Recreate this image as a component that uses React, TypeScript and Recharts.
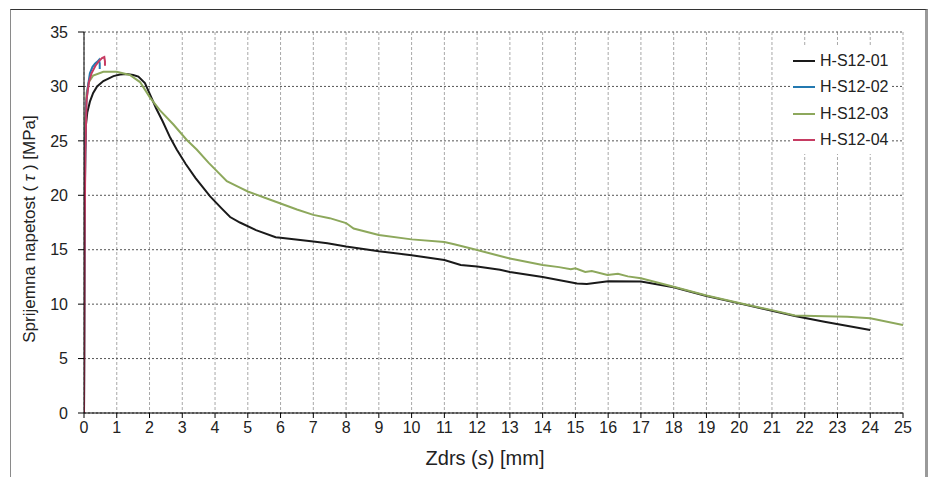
import { LineChart, Line, XAxis, YAxis, CartesianGrid, Legend, Label } from "recharts";

const xTicks = [0, 1, 2, 3, 4, 5, 6, 7, 8, 9, 10, 11, 12, 13, 14, 15, 16, 17, 18, 19, 20, 21, 22, 23, 24, 25];
const yTicks = [0, 5, 10, 15, 20, 25, 30, 35];

// [slip mm, bond stress MPa]
const s01: [number, number][] = [
  [0, 0], [0.01, 10], [0.02, 18], [0.04, 24], [0.06, 26.5], [0.1, 27.6], [0.18, 28.6], [0.28, 29.4],
  [0.4, 30.0], [0.59, 30.5], [0.9, 30.95], [1.1, 31.1], [1.3, 31.15], [1.5, 31.05], [1.66, 30.9],
  [1.86, 30.3], [2.01, 29.3], [2.2, 28], [2.4, 26.8], [2.63, 25.3], [2.83, 24.2], [3.1, 22.9],
  [3.4, 21.6], [3.85, 19.9], [4.2, 18.8], [4.46, 18.0], [4.76, 17.5], [5.25, 16.8], [5.85, 16.15],
  [6, 16.1], [7, 15.75], [7.43, 15.6], [8, 15.3], [9, 14.85], [10, 14.5], [11, 14.05], [11.5, 13.6],
  [12, 13.45], [12.7, 13.15], [13, 12.95], [14, 12.5], [15.05, 11.9], [15.35, 11.85], [16, 12.1],
  [17, 12.07], [18, 11.55], [19, 10.75], [20, 10.07], [21, 9.4], [21.7, 8.91], [22.6, 8.39], [24, 7.62],
];

const s02: [number, number][] = [
  [0, 0], [0.01, 10], [0.02, 18], [0.04, 25], [0.07, 28.5], [0.12, 30], [0.18, 31.2], [0.26, 31.8],
  [0.34, 32.1], [0.42, 32.3], [0.46, 32.45], [0.48, 32.1], [0.48, 31.6],
];

const s03: [number, number][] = [
  [0, 0], [0.01, 12], [0.02, 22], [0.04, 27], [0.08, 29.4], [0.15, 30.4], [0.28, 31.0], [0.59, 31.35],
  [1.0, 31.35], [1.4, 31.05], [1.71, 30.4], [2.01, 29.0], [2.32, 27.8], [2.73, 26.5], [3.13, 25.1],
  [3.44, 24.2], [3.8, 23.0], [4.36, 21.3], [4.76, 20.7], [5, 20.35], [5.5, 19.8], [6, 19.25],
  [6.5, 18.7], [7, 18.2], [7.5, 17.9], [8, 17.45], [8.23, 16.95], [9, 16.35], [10, 15.95], [11, 15.7],
  [11.3, 15.5], [12, 14.97], [12.7, 14.42], [13, 14.2], [14, 13.6], [14.5, 13.4], [14.86, 13.2],
  [15, 13.3], [15.3, 12.95], [15.5, 13.05], [15.98, 12.68], [16.3, 12.8], [16.6, 12.55], [17, 12.37],
  [18, 11.6], [19, 10.8], [20, 10.1], [21, 9.45], [21.7, 8.95], [22.3, 8.91], [23.3, 8.85], [24, 8.7],
  [25, 8.08],
];

const s04: [number, number][] = [
  [0, 0], [0.01, 8], [0.02, 16], [0.04, 24], [0.08, 28.8], [0.15, 30.4], [0.23, 31.2], [0.35, 31.9],
  [0.45, 32.3], [0.55, 32.6], [0.62, 32.7], [0.64, 32.3], [0.64, 31.9],
];

const toRows = (pts: [number, number][]) => pts.map(([x, y]) => ({ x, y }));

const series = [
  { name: "H-S12-01", color: "#1a1a1a", data: toRows(s01) },
  { name: "H-S12-03", color: "#8da85c", data: toRows(s03) },
  { name: "H-S12-02", color: "#2379b0", data: toRows(s02) },
  { name: "H-S12-04", color: "#c63b62", data: toRows(s04) },
];
const legendOrder = ["H-S12-01", "H-S12-02", "H-S12-03", "H-S12-04"];

const FONT = "'Liberation Sans', Arial, sans-serif";

function LegendBox({ payload }: any) {
  const items = [...(payload || [])].sort(
    (a: any, b: any) => legendOrder.indexOf(a.value) - legendOrder.indexOf(b.value)
  );
  return (
    <div style={{ background: "#fff", width: 100, height: 108, position: "relative", fontFamily: FONT }}>
      {items.map((it: any, i: number) => (
        <div
          key={it.value}
          style={{
            position: "absolute",
            left: 0,
            top: 2 + i * 26.3,
            height: 26,
            display: "flex",
            alignItems: "center",
            fontSize: 16,
            color: "#222",
          }}
        >
          <span style={{ display: "inline-block", width: 22, height: 2, background: it.color, marginLeft: 2, marginRight: 5 }} />
          {it.value}
        </div>
      ))}
    </div>
  );
}

export default function App() {
  return (
    <div style={{ position: "absolute", left: 0, top: 0, width: 933, height: 477, background: "#fff" }}>
      <div
        style={{
          position: "absolute",
          left: 10,
          top: 9,
          width: 914,
          height: 470,
          borderTop: "1px solid #333",
          borderLeft: "1px solid #8a8a8a",
          borderRight: "3px solid #9a9a9a",
        }}
      />
      <div style={{ position: "absolute", left: 0, top: 0 }}>
        <LineChart width={933} height={477} margin={{ top: 32, right: 30, bottom: 34, left: 0 }}>
          <CartesianGrid horizontal={false} stroke="#a8a8a8" strokeDasharray="3 2" />
          <CartesianGrid vertical={false} stroke="#555" strokeDasharray="2 2" />
          <XAxis
            type="number"
            dataKey="x"
            domain={[0, 25]}
            ticks={xTicks}
            interval={0}
            allowDataOverflow
            height={30}
            stroke="#000"
            tickSize={5}
            tickMargin={4}
            tick={{ fill: "#222", fontSize: 16, fontFamily: FONT }}
          >
            <Label
              content={() => (
                <text x={485} y={465} textAnchor="middle" fontSize={20} fill="#222" fontFamily={FONT}>
                  Zdrs (<tspan fontStyle="italic">s</tspan>) [mm]
                </text>
              )}
            />
          </XAxis>
          <YAxis
            type="number"
            domain={[0, 35]}
            ticks={yTicks}
            interval={0}
            width={84}
            stroke="#000"
            tickSize={6}
            tickMargin={10}
            tick={{ fill: "#222", fontSize: 16, fontFamily: FONT }}
          >
            <Label
              content={() => (
                <text
                  x={29}
                  y={229}
                  transform="rotate(-90 29 229)"
                  textAnchor="middle"
                  dominantBaseline="central"
                  fontSize={17}
                  fill="#222"
                  fontFamily={FONT}
                >
                  Sprijemna napetost ( <tspan fontStyle="italic">τ</tspan> ) [MPa]
                </text>
              )}
            />
          </YAxis>
          <Legend
            layout="vertical"
            align="center"
            verticalAlign="middle"
            wrapperStyle={{ left: 791, top: 46, width: 100, height: 108 }}
            content={<LegendBox />}
          />
          {series.map((s) => (
            <Line
              key={s.name}
              name={s.name}
              data={s.data}
              dataKey="y"
              type="linear"
              stroke={s.color}
              strokeWidth={2}
              dot={false}
              isAnimationActive={false}
            />
          ))}
        </LineChart>
      </div>
    </div>
  );
}
